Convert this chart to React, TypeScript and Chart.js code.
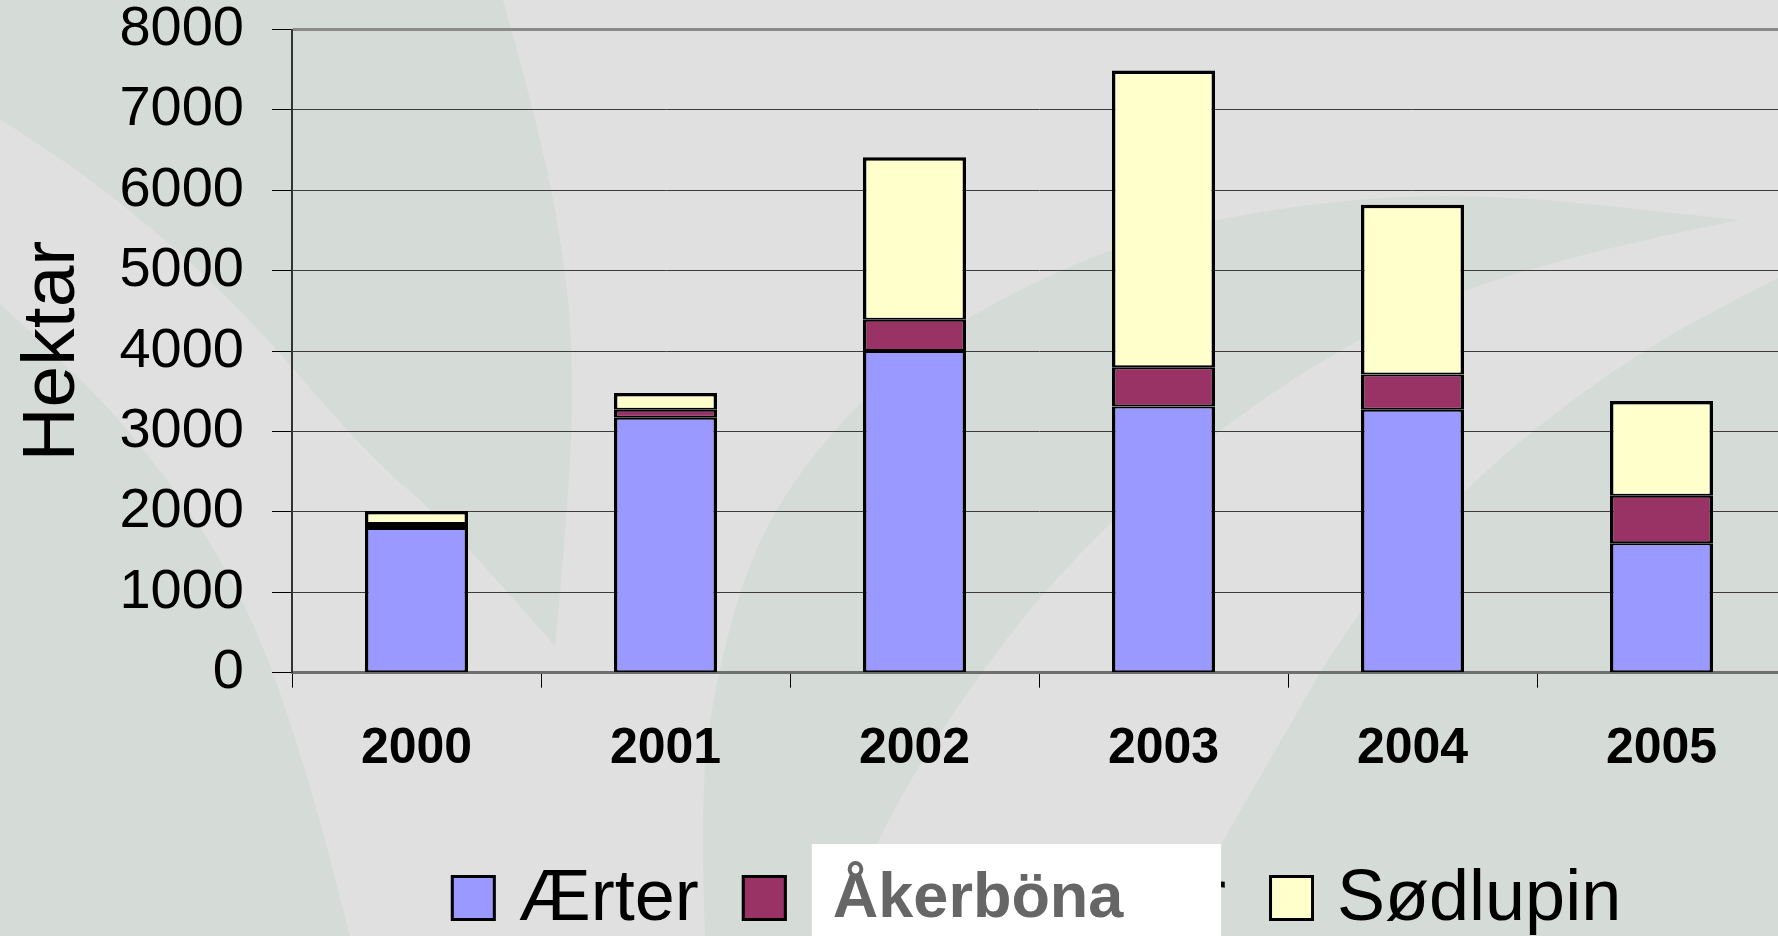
import React, { useEffect, useRef } from 'react';
import { Chart, registerables } from 'chart.js';

Chart.register(...registerables);

// ---- data ----
const categories = ['2000', '2001', '2002', '2003', '2004', '2005'];
const aerter = [1800, 3170, 4000, 3310, 3270, 1610];
const akerbona = [50, 100, 390, 490, 440, 590];
const sodlupin = [160, 210, 2020, 3690, 2110, 1180];
const seriesLabels = ['Ærter', 'Hestebønner', 'Sødlupin'];
const seriesColors = ['#9999ff', '#993366', '#ffffcc'];
const patchLabel = 'Åkerböna';
const yTitle = 'Hektar';
const yMax = 8000;
const yStep = 1000;

const FAMILY = '"Liberation Sans", Arial, Helvetica, sans-serif';
const W = 1800;
const H = 936;

type Pt = [number, number];

// decorative background leaves (canvas pixel space)
const LEAVES: Pt[][][] = [
  [
    [[0, 0], [503, 0]],
    [[503, 0], [540, 130], [568, 280], [574, 400], [565, 540], [555, 646]],
    [[555, 646], [450, 525], [367, 455], [233, 298], [100, 185], [0, 119]],
  ],
  [
    [[0, 304], [90, 385], [167, 478], [225, 565], [270, 660], [315, 800], [350, 936]],
    [[350, 936], [0, 936]],
  ],
  [
    [[705, 936], [700, 800], [715, 680], [755, 540], [830, 430], [940, 330], [1100, 250], [1250, 210], [1460, 190], [1740, 220]],
    [[1740, 220], [1530, 262], [1350, 340], [1190, 450], [1060, 570], [960, 700], [880, 830], [845, 936]],
  ],
  [
    [[1800, 268], [1778, 277], [1628, 357], [1470, 480], [1350, 620], [1270, 760], [1200, 880], [1180, 936]],
    [[1180, 936], [1800, 936]],
  ],
];

function traceCurve(ctx: CanvasRenderingContext2D, pts: Pt[], first: boolean) {
  if (first) ctx.moveTo(pts[0][0], pts[0][1]);
  else ctx.lineTo(pts[0][0], pts[0][1]);
  for (let i = 1; i < pts.length - 1; i++) {
    const mx = (pts[i][0] + pts[i + 1][0]) / 2;
    const my = (pts[i][1] + pts[i + 1][1]) / 2;
    ctx.quadraticCurveTo(pts[i][0], pts[i][1], mx, my);
  }
  const last = pts[pts.length - 1];
  ctx.lineTo(last[0], last[1]);
}

const bgPlugin = {
  id: 'leafBackground',
  beforeDraw(chart: any) {
    const { ctx, width, height } = chart;
    ctx.save();
    ctx.fillStyle = '#e0e0e0';
    ctx.fillRect(0, 0, width, height);
    ctx.fillStyle = '#d5dcd8';
    for (const shape of LEAVES) {
      ctx.beginPath();
      shape.forEach((curve, i) => traceCurve(ctx, curve, i === 0));
      ctx.closePath();
      ctx.fill();
    }
    ctx.restore();
  },
};

const legendPlugin = {
  id: 'bottomLegend',
  afterDraw(chart: any) {
    const { ctx, chartArea } = chart;
    const ds = chart.data.datasets;
    ctx.save();
    ctx.font = `72px ${FAMILY}`;
    const widths = ds.map((d: any) => ctx.measureText(d.label).width);
    const BOX_W = 45;
    const BOX_H = 46;
    const GAP_T = 23;
    const GAP_I = 43;
    const total =
      widths.reduce((a: number, w: number) => a + BOX_W + GAP_T + w, 0) + GAP_I * (ds.length - 1);
    let x = (chartArea.left + chartArea.right) / 2 - total / 2 - 3;
    const boxTop = 875;
    const baseline = 920;
    const textStarts: number[] = [];
    ds.forEach((d: any, i: number) => {
      ctx.fillStyle = d.backgroundColor;
      ctx.fillRect(x, boxTop, BOX_W, BOX_H);
      ctx.lineWidth = 3;
      ctx.strokeStyle = '#000';
      ctx.strokeRect(x + 1.5, boxTop + 1.5, BOX_W - 3, BOX_H - 3);
      ctx.fillStyle = '#000';
      ctx.textAlign = 'left';
      ctx.textBaseline = 'alphabetic';
      ctx.fillText(d.label, x + BOX_W + GAP_T, baseline);
      textStarts.push(x + BOX_W + GAP_T);
      x += BOX_W + GAP_T + widths[i] + GAP_I;
    });
    // white patch with replacement label over the second legend entry
    const px = textStarts[1] + 2;
    const pr = textStarts[1] + widths[1] - 5;
    ctx.fillStyle = '#ffffff';
    ctx.fillRect(px, 844, pr - px, chart.height - 844);
    ctx.font = `bold 63px ${FAMILY}`;
    ctx.fillStyle = '#666666';
    ctx.fillText(patchLabel, px + 21, 917);
    ctx.restore();
  },
};

export default function App() {
  const canvasRef = useRef<HTMLCanvasElement | null>(null);

  useEffect(() => {
    const canvas = canvasRef.current;
    if (!canvas) return;
    Chart.defaults.font.family = FAMILY;
    const seriesValues = [aerter, akerbona, sodlupin];
    const last = seriesValues.length - 1;
    const chart = new Chart(canvas, {
      type: 'bar',
      data: {
        labels: categories,
        datasets: seriesValues.map((vals, i) => ({
          label: seriesLabels[i],
          data: vals,
          backgroundColor: seriesColors[i],
          borderColor: '#000000',
          borderWidth: { top: i === last ? 3.5 : 2, bottom: 2, left: 3.5, right: 3.5 },
          borderSkipped: false,
          barPercentage: 0.414,
          categoryPercentage: 1,
        })),
      },
      options: {
        responsive: false,
        animation: false,
        devicePixelRatio: 1,
        layout: { padding: { top: 29.5, right: W - 1786, left: 0, bottom: 0 } },
        plugins: {
          legend: { display: false },
          tooltip: { enabled: false },
          title: { display: false },
        },
        scales: {
          x: {
            stacked: true,
            grid: {
              display: true,
              drawOnChartArea: false,
              drawTicks: true,
              tickLength: 15,
              tickColor: '#000000',
              tickWidth: 1,
              offset: true,
            },
            border: { display: true, color: '#6e6e6e', width: 3 },
            ticks: {
              color: '#000000',
              font: { size: 50, weight: 'bold', family: FAMILY },
              padding: 32,
              maxRotation: 0,
              autoSkip: false,
            },
            afterFit: (s: any) => {
              s.height = H - 672.7;
              s.paddingLeft = 0;
              s.paddingRight = 0;
            },
          },
          y: {
            stacked: true,
            min: 0,
            max: yMax,
            grid: {
              color: (c: any) => (c.tick && c.tick.value === yMax ? '#8a8a8a' : '#3c3c3c'),
              lineWidth: (c: any) => (c.tick && c.tick.value === yMax ? 3 : 1),
              tickLength: 20,
              tickColor: '#000000',
              tickWidth: 1,
            },
            border: { display: true, color: '#333333', width: 2 },
            ticks: {
              stepSize: yStep,
              color: '#000000',
              font: { size: 56, family: FAMILY },
              padding: 28,
              callback: (v: any) => String(v),
            },
            title: {
              display: true,
              text: yTitle,
              color: '#000000',
              font: { size: 75, family: FAMILY },
              padding: { top: 8, bottom: 0 },
            },
            afterFit: (s: any) => {
              s.width = 292;
              s.paddingTop = 0;
              s.paddingBottom = 0;
            },
          },
        },
      } as any,
      plugins: [bgPlugin, legendPlugin],
    });
    return () => chart.destroy();
  }, []);

  return (
    <div style={{ position: 'fixed', left: 0, top: 0, width: W, height: H, overflow: 'hidden' }}>
      <canvas ref={canvasRef} width={W} height={H} style={{ display: 'block' }} />
    </div>
  );
}
